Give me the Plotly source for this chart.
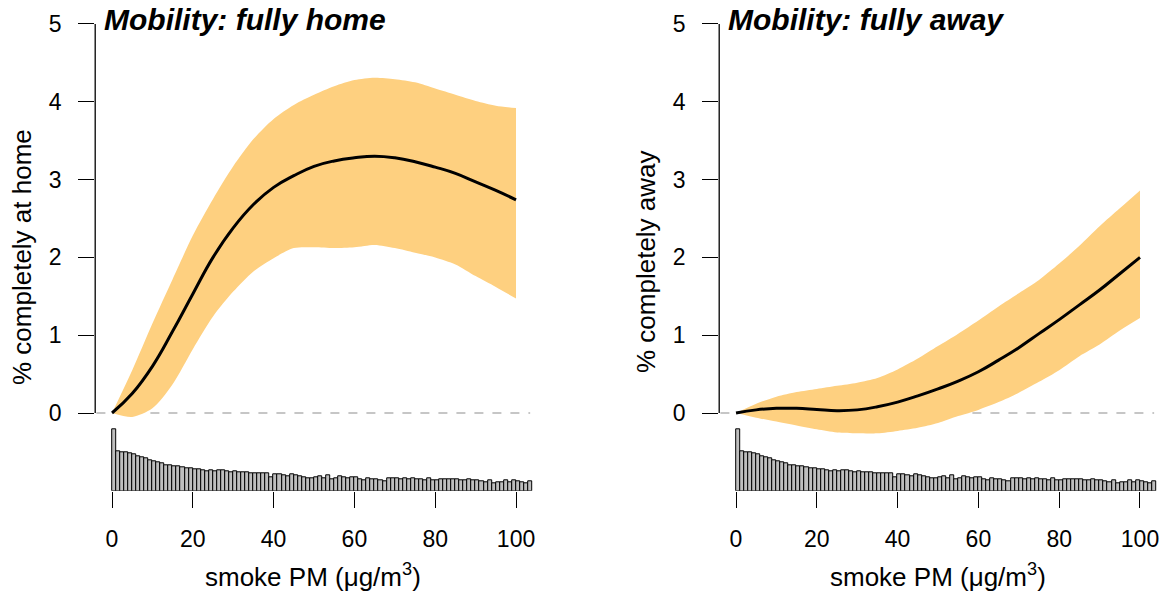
import plotly.graph_objects as go

# ---------------- data ----------------
x_grid = [0, 5, 10, 15, 20, 25, 30, 35, 40, 45, 50, 55, 60, 65, 70, 75, 80, 85, 90, 95, 100]

home_mean = [0.00, 0.25, 0.60, 1.05, 1.53, 2.00, 2.38, 2.68, 2.90, 3.05, 3.17, 3.24, 3.28, 3.30,
             3.28, 3.23, 3.16, 3.08, 2.97, 2.86, 2.74]
home_hi = [0.00, 0.55, 1.15, 1.72, 2.28, 2.75, 3.17, 3.52, 3.78, 3.96, 4.09, 4.20, 4.28, 4.31,
           4.29, 4.25, 4.17, 4.09, 4.01, 3.95, 3.92]
home_lo = [0.00, -0.05, 0.06, 0.37, 0.82, 1.24, 1.56, 1.82, 1.99, 2.12, 2.13, 2.12, 2.13, 2.16,
           2.12, 2.06, 2.00, 1.91, 1.76, 1.62, 1.47]

away_mean = [0.00, 0.04, 0.06, 0.06, 0.045, 0.03, 0.04, 0.08, 0.14, 0.22, 0.31, 0.41, 0.53, 0.68,
             0.84, 1.02, 1.20, 1.39, 1.58, 1.79, 2.00]
away_hi = [0.00, 0.12, 0.21, 0.27, 0.31, 0.35, 0.39, 0.45, 0.56, 0.70, 0.86, 1.02, 1.19, 1.37,
           1.54, 1.71, 1.92, 2.15, 2.40, 2.63, 2.86]
away_lo = [0.00, -0.06, -0.11, -0.16, -0.21, -0.25, -0.26, -0.26, -0.23, -0.19, -0.13, -0.04, 0.04,
           0.14, 0.26, 0.40, 0.55, 0.73, 0.88, 1.06, 1.22]

# histogram of smoke PM (1-unit bins from 0 to 104), relative heights
hist_counts = [62, 40, 39, 38.3, 37.3, 36.3, 35, 33.3, 32.3, 31, 29.7, 28.3, 27.3, 26, 25.3, 25,
               24.3, 23.7, 23, 22.3, 22, 21.3, 21, 20, 21, 19.3, 20.3, 20.3, 19.7, 19, 19.3, 18.7,
               18.7, 18.3, 18, 17.3, 17.3, 17.3, 17.7, 13.3, 17, 16.3, 15.7, 14.3, 16.3, 15.7,
               14.3, 13.7, 12.7, 13, 14, 14.7, 13, 15.7, 11.7, 13, 14.3, 13.7, 12.3, 13.3, 13.3,
               12, 11, 13, 11.7, 11.7, 10.7, 10, 12.3, 12.3, 12.7, 12, 12.3, 11.7, 12.3, 11.3,
               12, 11, 12.3, 11, 10.7, 11.3, 11.3, 11.3, 12, 11.7, 11, 10.7, 12, 11, 10.3, 10,
               8.7, 10.3, 7.3, 8.3, 9, 10.7, 8.7, 10.3, 10, 8.7, 8, 10]
hist_edges = list(range(0, len(hist_counts) + 1))

x_ticks = [0, 20, 40, 60, 80, 100]
y_ticks = [0, 1, 2, 3, 4, 5]

titles = ["Mobility: fully home", "Mobility: fully away"]
y_titles = ["% completely at home", "% completely away"]
x_title = "smoke PM (\u03bcg/m<sup>3</sup>)"

# ---------------- layout constants ----------------
W, H = 1169, 596
FONT = "Liberation Sans, Arial, sans-serif"
BAND = "rgb(254,208,128)"
HIST_FILL = "rgb(190,190,190)"

Y_RANGE = [-1.0, 5.15]
HIST_BASE = -1.0
PX_PER_Y = 77.8  # vertical pixels per y unit

panels = [
    dict(px0=95.2, px1=549.0, xr=[-4.16, 108.16]),
    dict(px0=719.2, px1=1169.0, xr=[-4.16, 107.18]),
]
plot_top_px, plot_bot_px = 12.3, 490.8

fig = go.Figure()

series = [(home_mean, home_lo, home_hi), (away_mean, away_lo, away_hi)]

annotations = []
shapes = []
for i, (p, (m, lo, hi)) in enumerate(zip(panels, series)):
    xa = "x" if i == 0 else "x2"
    ya = "y" if i == 0 else "y2"
    yh = "y3" if i == 0 else "y4"
    # band (lower edge, then upper edge filled to it)
    fig.add_trace(go.Scatter(
        x=x_grid, y=lo, mode="lines", line=dict(width=0, color=BAND, shape="spline", smoothing=0.8),
        hoverinfo="skip", xaxis=xa, yaxis=ya, showlegend=False))
    fig.add_trace(go.Scatter(
        x=x_grid, y=hi, mode="lines", fill="tonexty", fillcolor=BAND,
        line=dict(width=0, color=BAND, shape="spline", smoothing=0.8),
        hoverinfo="skip", xaxis=xa, yaxis=ya, showlegend=False))
    # mean
    fig.add_trace(go.Scatter(
        x=x_grid, y=m, mode="lines",
        line=dict(color="black", width=3, shape="spline", smoothing=1.3),
        xaxis=xa, yaxis=ya, showlegend=False))
    # histogram
    centers = [(a + b) / 2 for a, b in zip(hist_edges[:-1], hist_edges[1:])]
    fig.add_trace(go.Bar(
        x=centers, y=hist_counts, width=1,
        marker=dict(color=HIST_FILL, line=dict(color="black", width=1)),
        xaxis=xa, yaxis=yh, showlegend=False))

    dom_x = [p["px0"] / W, p["px1"] / W]
    dom_y = [1 - plot_bot_px / H, 1 - plot_top_px / H]
    axis_common = dict(showgrid=False, zeroline=False, showline=False, ticks="outside",
                       ticklen=16, tickwidth=1.3, tickcolor="black",
                       tickfont=dict(family=FONT, size=23, color="black"))
    fig.update_layout(**{
        ("xaxis" if i == 0 else "xaxis2"): dict(domain=dom_x, range=p["xr"], tickvals=x_ticks,
                                                anchor=ya, ticklabelstandoff=12, **axis_common),
        ("yaxis" if i == 0 else "yaxis2"): dict(domain=dom_y, range=Y_RANGE, tickvals=y_ticks,
                                                anchor=xa, ticklabelstandoff=12, **axis_common),
        ("yaxis3" if i == 0 else "yaxis4"): dict(
            overlaying=ya, anchor=xa, visible=False,
            range=[(Y_RANGE[0] - HIST_BASE) * PX_PER_Y, (Y_RANGE[1] - HIST_BASE) * PX_PER_Y]),
    })
    # y axis line from 0 to 5
    shapes.append(dict(type="line", xref=f"{xa} domain", yref=ya, x0=0, x1=0, y0=0, y1=5,
                       line=dict(color="black", width=1.3)))
    # dashed zero line
    shapes.append(dict(type="line", xref=xa, yref=ya, x0=p["xr"][0] + 0.3, x1=103.5, y0=0, y1=0,
                       line=dict(color="rgb(180,180,180)", width=1.3, dash="dash"), layer="below"))
    # panel title
    annotations.append(dict(text=f"<b><i>{titles[i]}</i></b>", xref="paper", yref="paper",
                            x=(p["px0"] + 7.0) / W, y=1 - 20 / H, xanchor="left", yanchor="middle",
                            showarrow=False, font=dict(family=FONT, size=30, color="black")))
    # x title
    cx = 313 if i == 0 else 938
    annotations.append(dict(text=x_title, xref="paper", yref="paper", x=cx / W, y=1 - 575 / H,
                            xanchor="center", yanchor="middle", showarrow=False,
                            font=dict(family=FONT, size=26, color="black")))
    # y title
    cyx = 22 if i == 0 else 646
    cyy = 257 if i == 0 else 262
    annotations.append(dict(text=y_titles[i], xref="paper", yref="paper", x=cyx / W, y=1 - cyy / H,
                            xanchor="center", yanchor="middle", textangle=-90, showarrow=False,
                            font=dict(family=FONT, size=26, color="black")))

fig.update_layout(width=W, height=H, margin=dict(l=0, r=0, t=0, b=0),
                  paper_bgcolor="white", plot_bgcolor="white", bargap=0,
                  shapes=shapes, annotations=annotations, showlegend=False,
                  font=dict(family=FONT, color="black"))

fig.write_html("out.html", config={"displayModeBar": False},
               post_script="document.body.style.margin='0';document.body.style.overflow='hidden';")
